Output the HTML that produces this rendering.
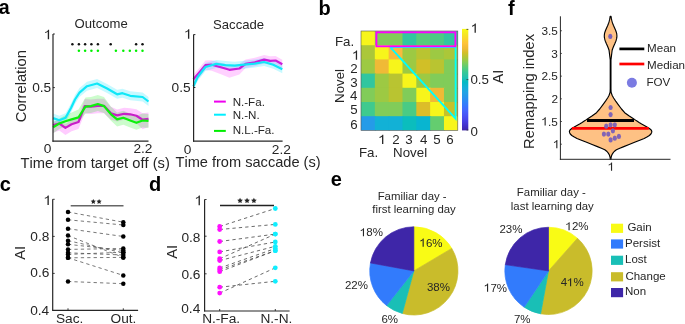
<!DOCTYPE html>
<html><head><meta charset="utf-8"><style>
html,body{margin:0;padding:0;background:#fff;}
body{width:685px;height:324px;overflow:hidden;}
svg{display:block;font-family:"Liberation Sans", sans-serif;will-change:transform;font-kerning:none;}
</style></head><body>
<svg width="685" height="324" viewBox="0 0 685 324">
<rect width="685" height="324" fill="#fff"/>
<text x="-1.17" y="14.35" font-size="19.60" font-weight="bold" fill="#000">a</text>
<text x="318.58" y="14.99" font-size="20.00" font-weight="bold" fill="#000">b</text>
<text x="-0.18" y="191.26" font-size="20.00" font-weight="bold" fill="#000">c</text>
<text x="149.08" y="191.29" font-size="20.00" font-weight="bold" fill="#000">d</text>
<text x="330.82" y="186.16" font-size="20.00" font-weight="bold" fill="#000">e</text>
<text x="508.06" y="14.79" font-size="20.00" font-weight="bold" fill="#000">f</text>
<polygon points="53.1,113.6 59.3,115.8 65.6,113.3 71.0,103.5 75.0,95.0 79.5,88.1 87.0,81.7 97.1,79.0 107.1,84.0 117.1,89.8 122.5,88.7 130.2,91.3 142.6,92.5 148.5,97.0 148.5,106.0 142.6,101.5 130.2,100.3 122.5,97.7 117.1,98.8 107.1,93.0 97.1,88.0 87.0,90.7 79.5,97.1 75.0,104.0 71.0,112.5 65.6,122.3 59.3,124.8 53.1,122.6" fill="#00e5ff" fill-opacity="0.22" stroke="none"/>
<polygon points="53.1,121.6 59.3,120.5 65.4,123.9 71.6,120.3 78.5,117.0 84.7,99.1 90.9,99.6 97.8,98.8 104.0,98.8 111.0,106.7 117.1,109.4 124.1,107.8 130.2,108.3 136.4,109.3 142.6,113.2 148.5,112.4 148.5,126.9 142.6,129.2 136.4,123.3 130.2,120.3 124.1,119.8 117.1,121.4 111.0,119.7 104.0,113.3 97.8,113.3 90.9,114.1 84.7,113.6 78.5,129.0 71.6,131.3 65.4,134.9 59.3,130.5 53.1,133.1" fill="#ff00ff" fill-opacity="0.2" stroke="none"/>
<polygon points="53.1,122.2 59.3,118.5 65.4,115.2 71.6,112.4 78.5,109.4 85.5,97.6 90.9,97.1 97.8,95.0 104.0,97.1 111.0,106.8 117.1,112.4 123.3,110.8 130.2,113.5 136.4,115.8 142.6,113.5 148.5,113.9 148.5,127.9 142.6,127.5 136.4,129.8 130.2,127.5 123.3,124.8 117.1,126.4 111.0,120.8 104.0,113.1 97.8,111.0 90.9,113.1 85.5,113.6 78.5,122.4 71.6,124.4 65.4,126.2 59.3,129.0 53.1,133.2" fill="#00ee00" fill-opacity="0.2" stroke="none"/>
<polyline points="53.1,118.1 59.3,120.3 65.6,117.8 71.0,108.0 75.0,99.5 79.5,92.6 87.0,86.2 97.1,83.5 107.1,88.5 117.1,94.3 122.5,93.2 130.2,95.8 142.6,97.0 148.5,101.5" fill="none" stroke="#10e8f8" stroke-width="2.2" stroke-linejoin="round" />
<polyline points="53.1,125.1 59.3,123.5 65.4,127.9 71.6,124.3 78.5,122.0 84.7,106.1 90.9,106.6 97.8,105.8 104.0,105.8 111.0,113.2 117.1,115.4 124.1,113.8 130.2,114.3 136.4,115.8 142.6,119.7 148.5,118.9" fill="none" stroke="#c81ec8" stroke-width="2.2" stroke-linejoin="round" />
<polyline points="53.1,127.2 59.3,123.5 65.4,121.2 71.6,119.4 78.5,117.4 85.5,106.6 90.9,106.1 97.8,104.0 104.0,106.1 111.0,114.3 117.1,119.4 123.3,117.8 130.2,120.5 136.4,122.8 142.6,120.5 148.5,120.9" fill="none" stroke="#0cf00c" stroke-width="2.2" stroke-linejoin="round" />
<line x1="53.0" y1="34.0" x2="53.0" y2="141.7" stroke="#262626" stroke-width="1.2" />
<line x1="52.5" y1="141.2" x2="148.5" y2="141.2" stroke="#262626" stroke-width="1.2" />
<line x1="53.0" y1="34.0" x2="54.8" y2="34.0" stroke="#262626" stroke-width="1" />
<line x1="53.0" y1="87.6" x2="54.8" y2="87.6" stroke="#262626" stroke-width="1" />
<circle cx="72.4" cy="44.2" r="1.25" fill="#111"/>
<circle cx="78.9" cy="44.2" r="1.25" fill="#111"/>
<circle cx="85.1" cy="44.2" r="1.25" fill="#111"/>
<circle cx="91.4" cy="44.2" r="1.25" fill="#111"/>
<circle cx="97.9" cy="44.2" r="1.25" fill="#111"/>
<circle cx="110.7" cy="44.2" r="1.25" fill="#111"/>
<circle cx="136.1" cy="44.2" r="1.25" fill="#111"/>
<circle cx="142.5" cy="44.2" r="1.25" fill="#111"/>
<circle cx="78.9" cy="50.7" r="1.25" fill="#00f000"/>
<circle cx="85.1" cy="50.7" r="1.25" fill="#00f000"/>
<circle cx="91.4" cy="50.7" r="1.25" fill="#00f000"/>
<circle cx="97.9" cy="50.7" r="1.25" fill="#00f000"/>
<circle cx="115.9" cy="50.7" r="1.25" fill="#00f000"/>
<circle cx="123.3" cy="50.7" r="1.25" fill="#00f000"/>
<circle cx="129.8" cy="50.7" r="1.25" fill="#00f000"/>
<circle cx="136.1" cy="50.7" r="1.25" fill="#00f000"/>
<circle cx="142.5" cy="50.7" r="1.25" fill="#00f000"/>
<text x="74.58" y="27.71" font-size="13.10" font-weight="normal" fill="#262626">Outcome</text>
<path d="M0.359,0 L0.359,-0.703 L0.290,-0.703 C0.262,-0.625 0.185,-0.565 0.070,-0.535 L0.070,-0.458 C0.150,-0.478 0.220,-0.510 0.262,-0.552 L0.262,0 Z" transform="translate(44.18,39.27) scale(13.700)" fill="#262626"/>
<text x="32.13" y="92.12" font-size="13.70" font-weight="normal" fill="#262626">0.5</text>
<text x="43.64" y="152.87" font-size="13.70" font-weight="normal" fill="#262626">0</text>
<text x="133.43" y="152.93" font-size="13.70" font-weight="normal" fill="#262626">2.2</text>
<text x="20.47" y="167.80" font-size="14.70" font-weight="normal" fill="#262626">Time from target off (s)</text>
<text transform="translate(25.73,122.25) rotate(-90)" font-size="14.76" fill="#262626">Correlation</text>
<polygon points="193.4,74.8 199.3,67.9 205.4,60.6 211.6,60.2 220.9,62.8 229.4,65.3 239.4,64.0 245.6,59.4 254.8,57.8 264.1,55.1 270.2,56.3 275.6,56.0 282.3,59.7 282.3,68.2 275.6,64.5 270.2,64.8 264.1,63.6 254.8,66.3 245.6,67.9 239.4,74.5 229.4,77.8 220.9,74.3 211.6,70.7 205.4,70.1 199.3,77.4 193.4,83.3" fill="#ff00ff" fill-opacity="0.18" stroke="none"/>
<polygon points="193.4,82.3 197.7,73.0 205.4,63.0 216.2,59.9 225.5,61.1 234.8,61.7 244.0,60.7 254.8,59.6 264.1,58.0 273.3,60.7 282.3,65.3 282.3,73.3 273.3,68.7 264.1,66.0 254.8,67.6 244.0,68.7 234.8,69.7 225.5,69.1 216.2,67.9 205.4,71.0 197.7,81.0 193.4,90.3" fill="#00e5ff" fill-opacity="0.22" stroke="none"/>
<polyline points="193.4,79.3 199.3,72.4 205.4,65.1 211.6,64.7 220.9,67.3 229.4,69.8 239.4,68.5 245.6,63.9 254.8,62.3 264.1,59.6 270.2,60.8 275.6,60.5 282.3,64.2" fill="none" stroke="#cc1ed8" stroke-width="2.2" stroke-linejoin="round" />
<polyline points="193.4,86.3 197.7,77.0 205.4,67.0 216.2,63.9 225.5,65.1 234.8,65.7 244.0,64.7 254.8,63.6 264.1,62.0 273.3,64.7 282.3,69.3" fill="none" stroke="#10e8f8" stroke-width="2.2" stroke-linejoin="round" />
<line x1="193.6" y1="34.6" x2="193.6" y2="141.7" stroke="#262626" stroke-width="1.2" />
<line x1="193.1" y1="141.2" x2="282.6" y2="141.2" stroke="#262626" stroke-width="1.2" />
<line x1="193.6" y1="34.6" x2="195.4" y2="34.6" stroke="#262626" stroke-width="1" />
<line x1="193.6" y1="87.5" x2="195.4" y2="87.5" stroke="#262626" stroke-width="1" />
<text x="213.11" y="29.38" font-size="13.10" font-weight="normal" fill="#262626">Saccade</text>
<path d="M0.359,0 L0.359,-0.703 L0.290,-0.703 C0.262,-0.625 0.185,-0.565 0.070,-0.535 L0.070,-0.458 C0.150,-0.478 0.220,-0.510 0.262,-0.552 L0.262,0 Z" transform="translate(184.38,38.77) scale(13.700)" fill="#262626"/>
<text x="171.53" y="92.32" font-size="13.70" font-weight="normal" fill="#262626">0.5</text>
<text x="183.79" y="153.52" font-size="13.70" font-weight="normal" fill="#262626">0</text>
<text x="271.83" y="153.58" font-size="13.70" font-weight="normal" fill="#262626">2.2</text>
<text x="175.47" y="167.13" font-size="14.60" font-weight="normal" fill="#262626">Time from saccade (s)</text>
<line x1="214.0" y1="101.6" x2="225.8" y2="101.6" stroke="#ee00ee" stroke-width="2" />
<line x1="214.0" y1="114.7" x2="225.8" y2="114.7" stroke="#00eeff" stroke-width="2" />
<line x1="214.0" y1="130.9" x2="225.8" y2="130.9" stroke="#00ee00" stroke-width="2" />
<text x="232.65" y="105.88" font-size="11.60" font-weight="normal" fill="#262626">N.-Fa.</text>
<text x="232.65" y="119.44" font-size="11.60" font-weight="normal" fill="#262626">N.-N.</text>
<text x="232.65" y="133.93" font-size="11.60" font-weight="normal" fill="#262626">N.L.-Fa.</text>
<rect x="361.00" y="31.00" width="14.83" height="15.20" fill="#f7f51b"/>
<rect x="374.83" y="31.00" width="14.83" height="15.20" fill="#81cc59"/>
<rect x="388.66" y="31.00" width="14.83" height="15.20" fill="#81cc59"/>
<rect x="402.49" y="31.00" width="14.83" height="15.20" fill="#31c69f"/>
<rect x="416.31" y="31.00" width="14.83" height="15.20" fill="#57cc7a"/>
<rect x="430.14" y="31.00" width="14.83" height="15.20" fill="#4acb84"/>
<rect x="443.97" y="31.00" width="13.83" height="15.20" fill="#31c69f"/>
<rect x="361.00" y="45.20" width="14.83" height="15.20" fill="#abc739"/>
<rect x="374.83" y="45.20" width="14.83" height="15.20" fill="#f7f51b"/>
<rect x="388.66" y="45.20" width="14.83" height="15.20" fill="#f8ba3d"/>
<rect x="402.49" y="45.20" width="14.83" height="15.20" fill="#9dc943"/>
<rect x="416.31" y="45.20" width="14.83" height="15.20" fill="#b9c431"/>
<rect x="430.14" y="45.20" width="14.83" height="15.20" fill="#9dc943"/>
<rect x="443.97" y="45.20" width="13.83" height="15.20" fill="#abc739"/>
<rect x="361.00" y="59.40" width="14.83" height="15.20" fill="#9dc943"/>
<rect x="374.83" y="59.40" width="14.83" height="15.20" fill="#f0ba36"/>
<rect x="388.66" y="59.40" width="14.83" height="15.20" fill="#f7f51b"/>
<rect x="402.49" y="59.40" width="14.83" height="15.20" fill="#9dc943"/>
<rect x="416.31" y="59.40" width="14.83" height="15.20" fill="#d1bf27"/>
<rect x="430.14" y="59.40" width="14.83" height="15.20" fill="#b9c431"/>
<rect x="443.97" y="59.40" width="13.83" height="15.20" fill="#81cc59"/>
<rect x="361.00" y="73.60" width="14.83" height="15.20" fill="#31c69f"/>
<rect x="374.83" y="73.60" width="14.83" height="15.20" fill="#9dc943"/>
<rect x="388.66" y="73.60" width="14.83" height="15.20" fill="#b9c431"/>
<rect x="402.49" y="73.60" width="14.83" height="15.20" fill="#f7f51b"/>
<rect x="416.31" y="73.60" width="14.83" height="15.20" fill="#9dc943"/>
<rect x="430.14" y="73.60" width="14.83" height="15.20" fill="#81cc59"/>
<rect x="443.97" y="73.60" width="13.83" height="15.20" fill="#81cc59"/>
<rect x="361.00" y="87.80" width="14.83" height="15.20" fill="#81cc59"/>
<rect x="374.83" y="87.80" width="14.83" height="15.20" fill="#9dc943"/>
<rect x="388.66" y="87.80" width="14.83" height="15.20" fill="#b9c431"/>
<rect x="402.49" y="87.80" width="14.83" height="15.20" fill="#81cc59"/>
<rect x="416.31" y="87.80" width="14.83" height="15.20" fill="#f7f51b"/>
<rect x="430.14" y="87.80" width="14.83" height="15.20" fill="#f0ba36"/>
<rect x="443.97" y="87.80" width="13.83" height="15.20" fill="#81cc59"/>
<rect x="361.00" y="102.00" width="14.83" height="15.20" fill="#3fca8e"/>
<rect x="374.83" y="102.00" width="14.83" height="15.20" fill="#81cc59"/>
<rect x="388.66" y="102.00" width="14.83" height="15.20" fill="#81cc59"/>
<rect x="402.49" y="102.00" width="14.83" height="15.20" fill="#4acb84"/>
<rect x="416.31" y="102.00" width="14.83" height="15.20" fill="#dcbd29"/>
<rect x="430.14" y="102.00" width="14.83" height="15.20" fill="#f7f51b"/>
<rect x="443.97" y="102.00" width="13.83" height="15.20" fill="#c5c22a"/>
<rect x="361.00" y="116.20" width="14.83" height="14.20" fill="#259be8"/>
<rect x="374.83" y="116.20" width="14.83" height="14.20" fill="#12b1d6"/>
<rect x="388.66" y="116.20" width="14.83" height="14.20" fill="#12b1d6"/>
<rect x="402.49" y="116.20" width="14.83" height="14.20" fill="#0bbdbd"/>
<rect x="416.31" y="116.20" width="14.83" height="14.20" fill="#08b5d0"/>
<rect x="430.14" y="116.20" width="14.83" height="14.20" fill="#64cd6f"/>
<rect x="443.97" y="116.20" width="13.83" height="14.20" fill="#f7f51b"/>
<rect x="361.0" y="31.0" width="96.80000000000001" height="99.4" fill="none" stroke="#555" stroke-width="0.6"/>
<polyline points="390.2,47.2 455.6,47.2 455.6,118.6 390.2,47.2" fill="none" stroke="#00ffff" stroke-width="1.8"/>
<rect x="376.4" y="32.3" width="79.0" height="14.0" fill="none" stroke="#ff00ff" stroke-width="1.9"/>
<defs><linearGradient id="par" x1="0" y1="1" x2="0" y2="0"><stop offset="0.0000" stop-color="#3e26a8"/><stop offset="0.0476" stop-color="#4332cb"/><stop offset="0.0952" stop-color="#4741e5"/><stop offset="0.1429" stop-color="#4852f4"/><stop offset="0.1905" stop-color="#4563fd"/><stop offset="0.2381" stop-color="#3875fe"/><stop offset="0.2857" stop-color="#2e87f7"/><stop offset="0.3333" stop-color="#2797eb"/><stop offset="0.3810" stop-color="#20a5e3"/><stop offset="0.4286" stop-color="#12b1d6"/><stop offset="0.4762" stop-color="#02bac3"/><stop offset="0.5238" stop-color="#24c1ae"/><stop offset="0.5714" stop-color="#37c897"/><stop offset="0.6190" stop-color="#57cc7a"/><stop offset="0.6667" stop-color="#81cc59"/><stop offset="0.7143" stop-color="#abc739"/><stop offset="0.7619" stop-color="#d1bf27"/><stop offset="0.8095" stop-color="#f0ba36"/><stop offset="0.8571" stop-color="#fec338"/><stop offset="0.9048" stop-color="#fad62d"/><stop offset="0.9524" stop-color="#f5e924"/><stop offset="1.0000" stop-color="#f9fb15"/><stop offset="1.0000" stop-color="#f9fb15"/></linearGradient></defs>
<rect x="462.0" y="28.9" width="6.3" height="101.5" fill="url(#par)"/>
<line x1="466.5" y1="29.4" x2="468.3" y2="29.4" stroke="#333" stroke-width="0.8" />
<line x1="466.5" y1="79.6" x2="468.3" y2="79.6" stroke="#333" stroke-width="0.8" />
<line x1="466.5" y1="130.0" x2="468.3" y2="130.0" stroke="#333" stroke-width="0.8" />
<path d="M0.359,0 L0.359,-0.703 L0.290,-0.703 C0.262,-0.625 0.185,-0.565 0.070,-0.535 L0.070,-0.458 C0.150,-0.478 0.220,-0.510 0.262,-0.552 L0.262,0 Z" transform="translate(471.07,32.87) scale(13.300)" fill="#262626"/>
<text x="470.48" y="83.63" font-size="13.30" font-weight="normal" fill="#262626">0.5</text>
<text x="470.48" y="135.58" font-size="13.30" font-weight="normal" fill="#262626">0</text>
<text transform="translate(503.49,83.40) rotate(-90)" font-size="14.50" fill="#262626">AI</text>
<text x="334.90" y="45.71" font-size="13.30" font-weight="normal" fill="#262626">Fa.</text>
<path d="M0.359,0 L0.359,-0.703 L0.290,-0.703 C0.262,-0.625 0.185,-0.565 0.070,-0.535 L0.070,-0.458 C0.150,-0.478 0.220,-0.510 0.262,-0.552 L0.262,0 Z" transform="translate(352.33,59.77) scale(13.300)" fill="#262626"/>
<text x="350.37" y="73.14" font-size="13.30" font-weight="normal" fill="#262626">2</text>
<text x="350.29" y="86.58" font-size="13.30" font-weight="normal" fill="#262626">3</text>
<text x="350.09" y="100.18" font-size="13.30" font-weight="normal" fill="#262626">4</text>
<text x="350.26" y="114.01" font-size="13.30" font-weight="normal" fill="#262626">5</text>
<text x="350.29" y="128.98" font-size="13.30" font-weight="normal" fill="#262626">6</text>
<text transform="translate(343.65,102.95) rotate(-90)" font-size="13.30" fill="#262626">Novel</text>
<path d="M0.359,0 L0.359,-0.703 L0.290,-0.703 C0.262,-0.625 0.185,-0.565 0.070,-0.535 L0.070,-0.458 C0.150,-0.478 0.220,-0.510 0.262,-0.552 L0.262,0 Z" transform="translate(378.55,144.07) scale(13.300)" fill="#262626"/>
<text x="392.20" y="144.04" font-size="13.30" font-weight="normal" fill="#262626">2</text>
<text x="405.34" y="143.98" font-size="13.30" font-weight="normal" fill="#262626">3</text>
<text x="420.04" y="143.98" font-size="13.30" font-weight="normal" fill="#262626">4</text>
<text x="433.31" y="143.91" font-size="13.30" font-weight="normal" fill="#262626">5</text>
<text x="446.26" y="143.98" font-size="13.30" font-weight="normal" fill="#262626">6</text>
<text x="358.91" y="157.41" font-size="13.30" font-weight="normal" fill="#262626">Fa.</text>
<text x="393.11" y="157.45" font-size="13.30" font-weight="normal" fill="#262626">Novel</text>
<path d="M 610.95,16.20 L 611.14,17.20 L 611.30,18.20 L 611.49,19.20 L 611.71,20.20 L 611.98,21.20 L 612.28,22.20 L 612.62,23.20 L 613.00,24.20 L 613.40,25.20 L 613.83,26.20 L 614.28,27.20 L 614.73,28.20 L 615.17,29.20 L 615.59,30.20 L 615.97,31.20 L 616.30,32.20 L 616.57,33.20 L 616.76,34.20 L 616.87,35.20 L 616.90,36.20 L 616.84,37.20 L 616.69,38.20 L 616.47,39.20 L 616.17,40.20 L 615.82,41.20 L 615.42,42.20 L 615.00,43.20 L 614.55,44.20 L 614.10,45.20 L 613.66,46.20 L 613.24,47.20 L 612.84,48.20 L 612.48,49.20 L 612.15,50.20 L 610.95,60.00 L 610.95,80.00 L 610.95,89.00 L 611.10,92.20 L 612.10,95.30 L 613.60,98.00 L 615.70,101.10 L 618.40,104.80 L 621.50,109.00 L 624.70,112.70 L 628.90,115.80 L 633.10,118.40 L 636.20,120.60 L 639.10,122.50 L 641.60,124.00 L 646.10,126.50 L 649.40,128.50 L 651.20,130.00 L 651.80,131.30 L 651.60,132.70 L 650.90,134.00 L 649.40,135.50 L 646.90,137.10 L 644.20,138.50 L 639.80,140.20 L 634.60,142.30 L 629.10,144.50 L 623.80,146.60 L 619.80,148.20 L 616.40,149.80 L 614.20,151.50 L 612.90,153.10 L 611.80,155.00 L 611.10,157.40 L 610.90,159.20 L 610.30,159.20 L 610.10,157.40 L 609.40,155.00 L 608.30,153.10 L 607.00,151.50 L 604.80,149.80 L 601.40,148.20 L 597.40,146.60 L 592.10,144.50 L 586.60,142.30 L 581.40,140.20 L 577.00,138.50 L 574.30,137.10 L 571.80,135.50 L 570.30,134.00 L 569.60,132.70 L 569.40,131.30 L 570.00,130.00 L 571.80,128.50 L 575.10,126.50 L 579.60,124.00 L 582.10,122.50 L 585.00,120.60 L 588.10,118.40 L 592.30,115.80 L 596.50,112.70 L 599.70,109.00 L 602.80,104.80 L 605.50,101.10 L 607.60,98.00 L 609.10,95.30 L 610.10,92.20 L 610.25,89.00 L 610.25,80.00 L 610.25,60.00 L 609.05,50.20 L 608.72,49.20 L 608.36,48.20 L 607.96,47.20 L 607.54,46.20 L 607.10,45.20 L 606.65,44.20 L 606.20,43.20 L 605.78,42.20 L 605.38,41.20 L 605.03,40.20 L 604.73,39.20 L 604.51,38.20 L 604.36,37.20 L 604.30,36.20 L 604.33,35.20 L 604.44,34.20 L 604.63,33.20 L 604.90,32.20 L 605.23,31.20 L 605.61,30.20 L 606.03,29.20 L 606.47,28.20 L 606.92,27.20 L 607.37,26.20 L 607.80,25.20 L 608.20,24.20 L 608.58,23.20 L 608.92,22.20 L 609.22,21.20 L 609.49,20.20 L 609.71,19.20 L 609.90,18.20 L 610.06,17.20 L 610.25,16.20 Z" fill="#fec184" stroke="#000" stroke-width="1.15" stroke-linejoin="round"/>
<line x1="587.0" y1="120.5" x2="634.0" y2="120.5" stroke="#000" stroke-width="2.8" />
<line x1="571.9" y1="128.3" x2="648.8" y2="128.3" stroke="#f00" stroke-width="2.8" />
<ellipse cx="610.6" cy="107.5" rx="2.1" ry="2.6" fill="#7a5fb8" fill-opacity="0.95"/>
<ellipse cx="610.6" cy="114.6" rx="2.1" ry="2.6" fill="#7a5fb8" fill-opacity="0.95"/>
<ellipse cx="606.2" cy="126.2" rx="2.1" ry="2.6" fill="#7a5fb8" fill-opacity="0.95"/>
<ellipse cx="610.6" cy="124.8" rx="2.1" ry="2.6" fill="#7a5fb8" fill-opacity="0.95"/>
<ellipse cx="614.8" cy="124.8" rx="2.1" ry="2.6" fill="#7a5fb8" fill-opacity="0.95"/>
<ellipse cx="612.9" cy="130.8" rx="2.1" ry="2.6" fill="#7a5fb8" fill-opacity="0.95"/>
<ellipse cx="603.9" cy="134.1" rx="2.1" ry="2.6" fill="#7a5fb8" fill-opacity="0.95"/>
<ellipse cx="608.3" cy="134.1" rx="2.1" ry="2.6" fill="#7a5fb8" fill-opacity="0.95"/>
<ellipse cx="610.6" cy="139.9" rx="2.1" ry="2.6" fill="#7a5fb8" fill-opacity="0.95"/>
<ellipse cx="614.8" cy="138.2" rx="2.1" ry="2.6" fill="#7a5fb8" fill-opacity="0.95"/>
<ellipse cx="618.9" cy="136.4" rx="2.1" ry="2.6" fill="#7a5fb8" fill-opacity="0.95"/>
<ellipse cx="610.3" cy="36.4" rx="2.1" ry="2.6" fill="#7a5fb8"/>
<line x1="560.4" y1="16.3" x2="560.4" y2="159.8" stroke="#262626" stroke-width="1.0" />
<line x1="559.9" y1="159.3" x2="670.5" y2="159.3" stroke="#262626" stroke-width="1.0" />
<line x1="560.4" y1="144.2" x2="561.9" y2="144.2" stroke="#262626" stroke-width="0.8" />
<line x1="560.4" y1="121.50999999999999" x2="561.9" y2="121.50999999999999" stroke="#262626" stroke-width="0.8" />
<line x1="560.4" y1="98.82" x2="561.9" y2="98.82" stroke="#262626" stroke-width="0.8" />
<line x1="560.4" y1="76.12999999999998" x2="561.9" y2="76.12999999999998" stroke="#262626" stroke-width="0.8" />
<line x1="560.4" y1="53.43999999999998" x2="561.9" y2="53.43999999999998" stroke="#262626" stroke-width="0.8" />
<line x1="560.4" y1="30.749999999999986" x2="561.9" y2="30.749999999999986" stroke="#262626" stroke-width="0.8" />
<line x1="610.6" y1="159.3" x2="610.6" y2="157.8" stroke="#262626" stroke-width="0.8" />
<line x1="619.4" y1="48.9" x2="644.3" y2="48.9" stroke="#000" stroke-width="2.7" />
<line x1="619.4" y1="64.0" x2="644.3" y2="64.0" stroke="#f00" stroke-width="2.7" />
<circle cx="631.9" cy="82.8" r="5" fill="#7b7be2"/>
<text x="647.05" y="52.08" font-size="11.60" font-weight="normal" fill="#262626">Mean</text>
<text x="647.05" y="68.75" font-size="11.60" font-weight="normal" fill="#262626">Median</text>
<text x="646.45" y="86.19" font-size="11.60" font-weight="normal" fill="#262626">FOV</text>
<text x="541.49" y="34.81" font-size="11.80" font-weight="normal" fill="#262626">3.5</text>
<text x="551.36" y="57.50" font-size="11.80" font-weight="normal" fill="#262626">3</text>
<text x="541.49" y="80.19" font-size="11.80" font-weight="normal" fill="#262626">2.5</text>
<text x="551.43" y="102.94" font-size="11.80" font-weight="normal" fill="#262626">2</text>
<path d="M0.359,0 L0.359,-0.703 L0.290,-0.703 C0.262,-0.625 0.185,-0.565 0.070,-0.535 L0.070,-0.458 C0.150,-0.478 0.220,-0.510 0.262,-0.552 L0.262,0 Z" transform="translate(541.49,125.60) scale(11.800)" fill="#262626"/>
<text x="541.49" y="125.60" font-size="11.80" font-weight="normal" fill="#262626"> .5</text>
<path d="M0.359,0 L0.359,-0.703 L0.290,-0.703 C0.262,-0.625 0.185,-0.565 0.070,-0.535 L0.070,-0.458 C0.150,-0.478 0.220,-0.510 0.262,-0.552 L0.262,0 Z" transform="translate(553.16,148.35) scale(11.800)" fill="#262626"/>
<path d="M0.359,0 L0.359,-0.703 L0.290,-0.703 C0.262,-0.625 0.185,-0.565 0.070,-0.535 L0.070,-0.458 C0.150,-0.478 0.220,-0.510 0.262,-0.552 L0.262,0 Z" transform="translate(607.87,170.80) scale(11.800)" fill="#262626"/>
<text transform="translate(534.13,148.97) rotate(-90)" font-size="14.80" fill="#262626">Remapping index</text>
<line x1="52.7" y1="199.3" x2="52.7" y2="310.8" stroke="#262626" stroke-width="1.2" />
<line x1="52.2" y1="310.3" x2="138.1" y2="310.3" stroke="#262626" stroke-width="1.2" />
<line x1="52.7" y1="199.3" x2="54.7" y2="199.3" stroke="#262626" stroke-width="0.9" />
<line x1="52.7" y1="236.4" x2="54.7" y2="236.4" stroke="#262626" stroke-width="0.9" />
<line x1="52.7" y1="273.4" x2="54.7" y2="273.4" stroke="#262626" stroke-width="0.9" />
<line x1="68" y1="310.3" x2="68" y2="308.3" stroke="#262626" stroke-width="0.9" />
<line x1="123.3" y1="310.3" x2="123.3" y2="308.3" stroke="#262626" stroke-width="0.9" />
<line x1="68" y1="212.0" x2="123.3" y2="222.2" stroke="#555" stroke-width="0.8" stroke-dasharray="3.3,3.1"/>
<line x1="68" y1="219.8" x2="123.3" y2="225.0" stroke="#555" stroke-width="0.8" stroke-dasharray="3.3,3.1"/>
<line x1="68" y1="228.7" x2="123.3" y2="236.5" stroke="#555" stroke-width="0.8" stroke-dasharray="3.3,3.1"/>
<line x1="68" y1="235.6" x2="123.3" y2="257.4" stroke="#555" stroke-width="0.8" stroke-dasharray="3.3,3.1"/>
<line x1="68" y1="240.7" x2="123.3" y2="252.8" stroke="#555" stroke-width="0.8" stroke-dasharray="3.3,3.1"/>
<line x1="68" y1="244.3" x2="123.3" y2="250.4" stroke="#555" stroke-width="0.8" stroke-dasharray="3.3,3.1"/>
<line x1="68" y1="249.4" x2="123.3" y2="248.5" stroke="#555" stroke-width="0.8" stroke-dasharray="3.3,3.1"/>
<line x1="68" y1="252.8" x2="123.3" y2="255.0" stroke="#555" stroke-width="0.8" stroke-dasharray="3.3,3.1"/>
<line x1="68" y1="254.4" x2="123.3" y2="252.2" stroke="#555" stroke-width="0.8" stroke-dasharray="3.3,3.1"/>
<line x1="68" y1="257.8" x2="123.3" y2="275.4" stroke="#555" stroke-width="0.8" stroke-dasharray="3.3,3.1"/>
<line x1="68" y1="257.8" x2="123.3" y2="257.4" stroke="#555" stroke-width="0.8" stroke-dasharray="3.3,3.1"/>
<line x1="68" y1="281.5" x2="123.3" y2="283.7" stroke="#555" stroke-width="0.8" stroke-dasharray="3.3,3.1"/>
<circle cx="68" cy="212.0" r="2.25" fill="#000"/>
<circle cx="123.3" cy="222.2" r="2.25" fill="#000"/>
<circle cx="68" cy="219.8" r="2.25" fill="#000"/>
<circle cx="123.3" cy="225.0" r="2.25" fill="#000"/>
<circle cx="68" cy="228.7" r="2.25" fill="#000"/>
<circle cx="123.3" cy="236.5" r="2.25" fill="#000"/>
<circle cx="68" cy="235.6" r="2.25" fill="#000"/>
<circle cx="123.3" cy="257.4" r="2.25" fill="#000"/>
<circle cx="68" cy="240.7" r="2.25" fill="#000"/>
<circle cx="123.3" cy="252.8" r="2.25" fill="#000"/>
<circle cx="68" cy="244.3" r="2.25" fill="#000"/>
<circle cx="123.3" cy="250.4" r="2.25" fill="#000"/>
<circle cx="68" cy="249.4" r="2.25" fill="#000"/>
<circle cx="123.3" cy="248.5" r="2.25" fill="#000"/>
<circle cx="68" cy="252.8" r="2.25" fill="#000"/>
<circle cx="123.3" cy="255.0" r="2.25" fill="#000"/>
<circle cx="68" cy="254.4" r="2.25" fill="#000"/>
<circle cx="123.3" cy="252.2" r="2.25" fill="#000"/>
<circle cx="68" cy="257.8" r="2.25" fill="#000"/>
<circle cx="123.3" cy="275.4" r="2.25" fill="#000"/>
<circle cx="68" cy="257.8" r="2.25" fill="#000"/>
<circle cx="123.3" cy="257.4" r="2.25" fill="#000"/>
<circle cx="68" cy="281.5" r="2.25" fill="#000"/>
<circle cx="123.3" cy="283.7" r="2.25" fill="#000"/>
<line x1="70.7" y1="205.7" x2="123.5" y2="205.7" stroke="#666" stroke-width="1.4" />
<polygon points="93.30,199.00 94.09,200.61 95.87,200.87 94.58,202.12 94.89,203.88 93.30,203.05 91.71,203.88 92.02,202.12 90.73,200.87 92.51,200.61" fill="#262626"/>
<polygon points="99.10,199.00 99.89,200.61 101.67,200.87 100.38,202.12 100.69,203.88 99.10,203.05 97.51,203.88 97.82,202.12 96.53,200.87 98.31,200.61" fill="#262626"/>
<path d="M0.359,0 L0.359,-0.703 L0.290,-0.703 C0.262,-0.625 0.185,-0.565 0.070,-0.535 L0.070,-0.458 C0.150,-0.478 0.220,-0.510 0.262,-0.552 L0.262,0 Z" transform="translate(43.88,205.12) scale(13.700)" fill="#262626"/>
<text x="30.35" y="241.47" font-size="13.70" font-weight="normal" fill="#262626">0.8</text>
<text x="30.36" y="277.37" font-size="13.70" font-weight="normal" fill="#262626">0.6</text>
<text x="30.16" y="315.07" font-size="13.70" font-weight="normal" fill="#262626">0.4</text>
<text transform="translate(24.99,259.82) rotate(-90)" font-size="14.80" fill="#262626">AI</text>
<text x="55.91" y="323.12" font-size="13.70" font-weight="normal" fill="#262626">Sac.</text>
<text x="110.56" y="323.12" font-size="13.70" font-weight="normal" fill="#262626">Out.</text>
<line x1="204.6" y1="199.5" x2="204.6" y2="311.5" stroke="#262626" stroke-width="1.2" />
<line x1="204.1" y1="311.0" x2="289.6" y2="311.0" stroke="#262626" stroke-width="1.2" />
<line x1="204.6" y1="199.5" x2="206.6" y2="199.5" stroke="#262626" stroke-width="0.9" />
<line x1="204.6" y1="236.2" x2="206.6" y2="236.2" stroke="#262626" stroke-width="0.9" />
<line x1="204.6" y1="273.8" x2="206.6" y2="273.8" stroke="#262626" stroke-width="0.9" />
<line x1="219.7" y1="311.0" x2="219.7" y2="309.0" stroke="#262626" stroke-width="0.9" />
<line x1="275.3" y1="311.0" x2="275.3" y2="309.0" stroke="#262626" stroke-width="0.9" />
<line x1="219.7" y1="226.5" x2="275.3" y2="208.5" stroke="#444" stroke-width="0.8" stroke-dasharray="3.3,3.1"/>
<line x1="219.7" y1="229.5" x2="275.3" y2="224.4" stroke="#444" stroke-width="0.8" stroke-dasharray="3.3,3.1"/>
<line x1="219.7" y1="241.5" x2="275.3" y2="234.1" stroke="#444" stroke-width="0.8" stroke-dasharray="3.3,3.1"/>
<line x1="219.7" y1="251.9" x2="275.3" y2="242.0" stroke="#444" stroke-width="0.8" stroke-dasharray="3.3,3.1"/>
<line x1="219.7" y1="258.7" x2="275.3" y2="234.1" stroke="#444" stroke-width="0.8" stroke-dasharray="3.3,3.1"/>
<line x1="219.7" y1="260.6" x2="275.3" y2="246.3" stroke="#444" stroke-width="0.8" stroke-dasharray="3.3,3.1"/>
<line x1="219.7" y1="268.0" x2="275.3" y2="248.5" stroke="#444" stroke-width="0.8" stroke-dasharray="3.3,3.1"/>
<line x1="219.7" y1="269.8" x2="275.3" y2="250.7" stroke="#444" stroke-width="0.8" stroke-dasharray="3.3,3.1"/>
<line x1="219.7" y1="271.7" x2="275.3" y2="250.7" stroke="#444" stroke-width="0.8" stroke-dasharray="3.3,3.1"/>
<line x1="219.7" y1="287.2" x2="275.3" y2="281.3" stroke="#444" stroke-width="0.8" stroke-dasharray="3.3,3.1"/>
<line x1="219.7" y1="293.1" x2="275.3" y2="267.8" stroke="#444" stroke-width="0.8" stroke-dasharray="3.3,3.1"/>
<circle cx="219.7" cy="226.5" r="2.4" fill="#ff10ff"/>
<circle cx="275.3" cy="208.5" r="2.4" fill="#10eeff"/>
<circle cx="219.7" cy="229.5" r="2.4" fill="#ff10ff"/>
<circle cx="275.3" cy="224.4" r="2.4" fill="#10eeff"/>
<circle cx="219.7" cy="241.5" r="2.4" fill="#ff10ff"/>
<circle cx="275.3" cy="234.1" r="2.4" fill="#10eeff"/>
<circle cx="219.7" cy="251.9" r="2.4" fill="#ff10ff"/>
<circle cx="275.3" cy="242.0" r="2.4" fill="#10eeff"/>
<circle cx="219.7" cy="258.7" r="2.4" fill="#ff10ff"/>
<circle cx="275.3" cy="234.1" r="2.4" fill="#10eeff"/>
<circle cx="219.7" cy="260.6" r="2.4" fill="#ff10ff"/>
<circle cx="275.3" cy="246.3" r="2.4" fill="#10eeff"/>
<circle cx="219.7" cy="268.0" r="2.4" fill="#ff10ff"/>
<circle cx="275.3" cy="248.5" r="2.4" fill="#10eeff"/>
<circle cx="219.7" cy="269.8" r="2.4" fill="#ff10ff"/>
<circle cx="275.3" cy="250.7" r="2.4" fill="#10eeff"/>
<circle cx="219.7" cy="271.7" r="2.4" fill="#ff10ff"/>
<circle cx="275.3" cy="250.7" r="2.4" fill="#10eeff"/>
<circle cx="219.7" cy="287.2" r="2.4" fill="#ff10ff"/>
<circle cx="275.3" cy="281.3" r="2.4" fill="#10eeff"/>
<circle cx="219.7" cy="293.1" r="2.4" fill="#ff10ff"/>
<circle cx="275.3" cy="267.8" r="2.4" fill="#10eeff"/>
<line x1="220.0" y1="205.5" x2="274.0" y2="205.5" stroke="#222" stroke-width="1.4" />
<polygon points="240.05,197.75 240.92,199.51 242.86,199.79 241.45,201.16 241.78,203.09 240.05,202.17 238.32,203.09 238.65,201.16 237.24,199.79 239.18,199.51" fill="#262626"/>
<polygon points="247.05,197.75 247.92,199.51 249.86,199.79 248.45,201.16 248.78,203.09 247.05,202.17 245.32,203.09 245.65,201.16 244.24,199.79 246.18,199.51" fill="#262626"/>
<polygon points="253.90,197.75 254.77,199.51 256.71,199.79 255.30,201.16 255.63,203.09 253.90,202.17 252.17,203.09 252.50,201.16 251.09,199.79 253.03,199.51" fill="#262626"/>
<path d="M0.359,0 L0.359,-0.703 L0.290,-0.703 C0.262,-0.625 0.185,-0.565 0.070,-0.535 L0.070,-0.458 C0.150,-0.478 0.220,-0.510 0.262,-0.552 L0.262,0 Z" transform="translate(194.98,205.17) scale(13.700)" fill="#262626"/>
<text x="181.45" y="241.82" font-size="13.70" font-weight="normal" fill="#262626">0.8</text>
<text x="181.46" y="279.17" font-size="13.70" font-weight="normal" fill="#262626">0.6</text>
<text x="181.26" y="313.07" font-size="13.70" font-weight="normal" fill="#262626">0.4</text>
<text transform="translate(176.54,258.77) rotate(-90)" font-size="14.80" fill="#262626">AI</text>
<text x="202.14" y="322.65" font-size="13.70" font-weight="normal" fill="#262626">N.-Fa.</text>
<text x="260.43" y="322.71" font-size="13.70" font-weight="normal" fill="#262626">N.-N.</text>
<path d="M413.85,270.90 L413.85,226.80 A44.1,44.1 0 0 1 451.77,248.39 Z" fill="#f9fb15" stroke="#f9fb15" stroke-width="0.7" stroke-linejoin="round"/>
<path d="M413.85,270.90 L451.77,248.39 A44.1,44.1 0 0 1 402.29,313.46 Z" fill="#c9bc2b" stroke="#c9bc2b" stroke-width="0.7" stroke-linejoin="round"/>
<path d="M413.85,270.90 L402.29,313.46 A44.1,44.1 0 0 1 386.52,305.51 Z" fill="#19bfb6" stroke="#19bfb6" stroke-width="0.7" stroke-linejoin="round"/>
<path d="M413.85,270.90 L386.52,305.51 A44.1,44.1 0 0 1 370.47,262.94 Z" fill="#327bfc" stroke="#327bfc" stroke-width="0.7" stroke-linejoin="round"/>
<path d="M413.85,270.90 L370.47,262.94 A44.1,44.1 0 0 1 413.85,226.80 Z" fill="#3e26a8" stroke="#3e26a8" stroke-width="0.7" stroke-linejoin="round"/>
<path d="M548.50,270.90 L548.50,227.25 A43.65,43.65 0 0 1 577.48,238.26 Z" fill="#f9fb15" stroke="#f9fb15" stroke-width="0.7" stroke-linejoin="round"/>
<path d="M548.50,270.90 L577.48,238.26 A43.65,43.65 0 0 1 540.62,313.83 Z" fill="#c9bc2b" stroke="#c9bc2b" stroke-width="0.7" stroke-linejoin="round"/>
<path d="M548.50,270.90 L540.62,313.83 A43.65,43.65 0 0 1 524.15,307.13 Z" fill="#19bfb6" stroke="#19bfb6" stroke-width="0.7" stroke-linejoin="round"/>
<path d="M548.50,270.90 L524.15,307.13 A43.65,43.65 0 0 1 505.30,264.67 Z" fill="#327bfc" stroke="#327bfc" stroke-width="0.7" stroke-linejoin="round"/>
<path d="M548.50,270.90 L505.30,264.67 A43.65,43.65 0 0 1 548.50,227.25 Z" fill="#3e26a8" stroke="#3e26a8" stroke-width="0.7" stroke-linejoin="round"/>
<text x="377.66" y="199.66" font-size="11.40" font-weight="normal" fill="#262626">Familiar day -</text>
<text x="372.24" y="213.26" font-size="11.40" font-weight="normal" fill="#262626">first learning day</text>
<text x="516.86" y="195.96" font-size="11.40" font-weight="normal" fill="#262626">Familiar day -</text>
<text x="510.83" y="209.56" font-size="11.40" font-weight="normal" fill="#262626">last learning day</text>
<path d="M0.359,0 L0.359,-0.703 L0.290,-0.703 C0.262,-0.625 0.185,-0.565 0.070,-0.535 L0.070,-0.458 C0.150,-0.478 0.220,-0.510 0.262,-0.552 L0.262,0 Z" transform="translate(359.89,236.34) scale(11.500)" fill="#262626"/>
<text x="359.89" y="236.34" font-size="11.50" font-weight="normal" fill="#262626"> 8%</text>
<path d="M0.359,0 L0.359,-0.703 L0.290,-0.703 C0.262,-0.625 0.185,-0.565 0.070,-0.535 L0.070,-0.458 C0.150,-0.478 0.220,-0.510 0.262,-0.552 L0.262,0 Z" transform="translate(419.59,246.69) scale(11.500)" fill="#262626"/>
<text x="419.59" y="246.69" font-size="11.50" font-weight="normal" fill="#262626"> 6%</text>
<text x="426.96" y="291.26" font-size="11.50" font-weight="normal" fill="#262626">38%</text>
<text x="344.92" y="289.38" font-size="11.50" font-weight="normal" fill="#262626">22%</text>
<text x="381.42" y="323.01" font-size="11.50" font-weight="normal" fill="#262626">6%</text>
<text x="499.42" y="233.21" font-size="11.50" font-weight="normal" fill="#262626">23%</text>
<path d="M0.359,0 L0.359,-0.703 L0.290,-0.703 C0.262,-0.625 0.185,-0.565 0.070,-0.535 L0.070,-0.458 C0.150,-0.478 0.220,-0.510 0.262,-0.552 L0.262,0 Z" transform="translate(565.50,230.21) scale(11.500)" fill="#262626"/>
<text x="565.50" y="230.21" font-size="11.50" font-weight="normal" fill="#262626"> 2%</text>
<path d="M0.359,0 L0.359,-0.703 L0.290,-0.703 C0.262,-0.625 0.185,-0.565 0.070,-0.535 L0.070,-0.458 C0.150,-0.478 0.220,-0.510 0.262,-0.552 L0.262,0 Z" transform="translate(567.03,286.21) scale(11.500)" fill="#262626"/>
<text x="560.64" y="286.21" font-size="11.50" font-weight="normal" fill="#262626">4 %</text>
<path d="M0.359,0 L0.359,-0.703 L0.290,-0.703 C0.262,-0.625 0.185,-0.565 0.070,-0.535 L0.070,-0.458 C0.150,-0.478 0.220,-0.510 0.262,-0.552 L0.262,0 Z" transform="translate(484.00,291.66) scale(11.500)" fill="#262626"/>
<text x="484.00" y="291.66" font-size="11.50" font-weight="normal" fill="#262626"> 7%</text>
<text x="513.91" y="323.21" font-size="11.50" font-weight="normal" fill="#262626">7%</text>
<rect x="611.0" y="223.7" width="12.1" height="9.2" fill="#f9fb15"/>
<rect x="611.0" y="239.4" width="12.1" height="9.2" fill="#327bfc"/>
<rect x="611.0" y="255.7" width="12.1" height="9.2" fill="#19bfb6"/>
<rect x="611.0" y="272.2" width="12.1" height="9.2" fill="#c9bc2b"/>
<rect x="611.0" y="288.0" width="12.1" height="9.2" fill="#3e26a8"/>
<text x="627.42" y="231.48" font-size="11.50" font-weight="normal" fill="#262626">Gain</text>
<text x="625.06" y="247.18" font-size="11.50" font-weight="normal" fill="#262626">Persist</text>
<text x="625.06" y="263.06" font-size="11.50" font-weight="normal" fill="#262626">Lost</text>
<text x="625.42" y="279.98" font-size="11.50" font-weight="normal" fill="#262626">Change</text>
<text x="625.06" y="295.36" font-size="11.50" font-weight="normal" fill="#262626">Non</text>
</svg>
</body></html>
